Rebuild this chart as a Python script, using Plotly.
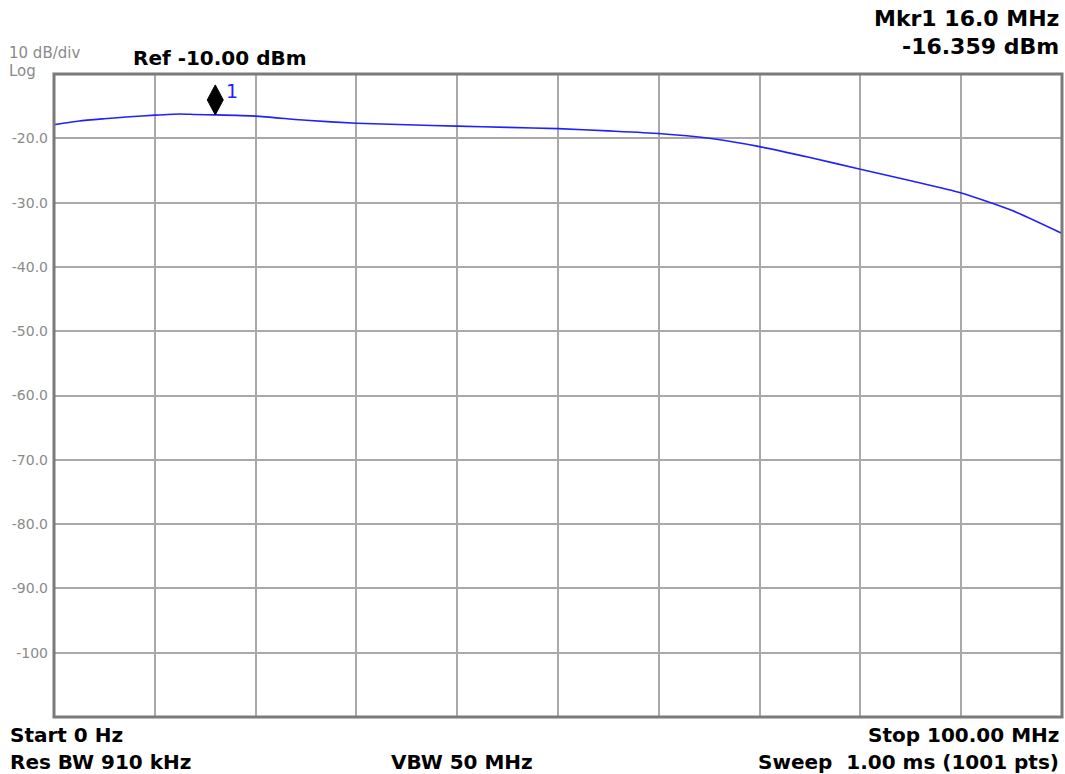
import plotly.graph_objects as go

# Trace
freq_mhz = [0, 2.5, 5, 7.5, 10, 12.5, 14, 16, 20, 25, 30, 35, 40, 45, 50,
            55, 60, 65, 70, 75, 80, 85, 90, 95, 100]
level_dbm = [-17.88, -17.3, -16.95, -16.65, -16.4, -16.22, -16.3, -16.36, -16.55,
             -17.2, -17.65, -17.9, -18.1, -18.3, -18.5, -18.85, -19.25, -20.0,
             -21.3, -23.0, -24.8, -26.6, -28.5, -31.2, -34.8]

# Marker 1
mkr_freq = 16.0
mkr_level = -16.359

# Y axis labels (ref level -10 dBm, 10 dB/div)
ytick_vals = [-20, -30, -40, -50, -60, -70, -80, -90, -100]
ytick_text = ['-20.0', '-30.0', '-40.0', '-50.0', '-60.0', '-70.0', '-80.0', '-90.0', '-100']
xgrid_vals = [10, 20, 30, 40, 50, 60, 70, 80, 90]

FONT = 'DejaVu Sans, Arial, sans-serif'
GRID = '#a9a9a9'

fig = go.Figure()

fig.add_trace(go.Scatter(x=freq_mhz, y=level_dbm, mode='lines',
                         line=dict(color='#2020ff', width=1.6, shape='spline', smoothing=0.6),
                         hoverinfo='skip'))

fig.update_layout(
    width=1065, height=774,
    margin=dict(l=54, r=3, t=74, b=57),
    paper_bgcolor='white', plot_bgcolor='white',
    showlegend=False,
    xaxis=dict(range=[0, 100], tickvals=xgrid_vals, showticklabels=False,
               showgrid=True, gridcolor=GRID, gridwidth=2, zeroline=False,
               ticks=''),
    yaxis=dict(range=[-110, -10], tickvals=ytick_vals, ticktext=ytick_text,
               showgrid=True, gridcolor=GRID, gridwidth=2, zeroline=False,
               ticks='', ticklabelstandoff=5,
               tickfont=dict(family=FONT, size=14, color='#8a8a8a')),
)

# frame
fig.add_shape(type='rect', xref='paper', yref='paper', x0=0, x1=1, y0=0, y1=1,
              line=dict(color='#7a7a7a', width=3))

# marker diamond sitting on the trace
fig.add_shape(type='path', xref='x', yref='y', xsizemode='pixel', ysizemode='pixel',
              xanchor=mkr_freq, yanchor=mkr_level,
              path='M0,0 L8,15 L0,30 L-8,15 Z',
              fillcolor='black', line=dict(color='black', width=1))

annots = [
    dict(x=mkr_freq, y=mkr_level, xref='x', yref='y', text='1', xshift=9, yshift=24,
         xanchor='left', yanchor='middle', font=dict(family=FONT, size=19, color='#2020ff')),
    dict(x=7, y=53, text='10 dB/div', xanchor='left', yanchor='middle',
         font=dict(family=FONT, size=15, color='#8a8a8a')),
    dict(x=7, y=71, text='Log', xanchor='left', yanchor='middle',
         font=dict(family=FONT, size=15, color='#8a8a8a')),
    dict(x=131, y=58, text='<b>Ref -10.00 dBm</b>', xanchor='left', yanchor='middle',
         font=dict(family=FONT, size=20, color='black')),
    dict(x=1061, y=18, text='<b>Mkr1 16.0 MHz</b>', xanchor='right', yanchor='middle',
         font=dict(family=FONT, size=22, color='black')),
    dict(x=1061, y=47, text='<b>-16.359 dBm</b>', xanchor='right', yanchor='middle',
         font=dict(family=FONT, size=22, color='black')),
    dict(x=8, y=735, text='<b>Start 0 Hz</b>', xanchor='left', yanchor='middle',
         font=dict(family=FONT, size=20, color='black')),
    dict(x=8, y=762, text='<b>Res BW 910 kHz</b>', xanchor='left', yanchor='middle',
         font=dict(family=FONT, size=20, color='black')),
    dict(x=462, y=762, text='<b>VBW 50 MHz</b>', xanchor='center', yanchor='middle',
         font=dict(family=FONT, size=20, color='black')),
    dict(x=1061, y=735, text='<b>Stop 100.00 MHz</b>', xanchor='right', yanchor='middle',
         font=dict(family=FONT, size=20, color='black')),
    dict(x=1061, y=762, text='<b>Sweep  1.00 ms (1001 pts)</b>', xanchor='right', yanchor='middle',
         font=dict(family=FONT, size=20, color='black')),
]

# header/footer texts are placed in pixel terms on the 1065x774 page
for a in annots:
    if 'xref' not in a:
        a['xref'] = 'paper'
        a['yref'] = 'paper'
        a['x'] = (a['x'] - 54) / (1065 - 54 - 3)
        a['y'] = 1 - (a['y'] - 74) / (774 - 74 - 57)
    a['showarrow'] = False
    fig.add_annotation(**a)

# drop the default body margin so the figure sits at the window's corner
fig.write_html('out.html', config={'displayModeBar': False},
               post_script="document.body.style.margin='0px';")
